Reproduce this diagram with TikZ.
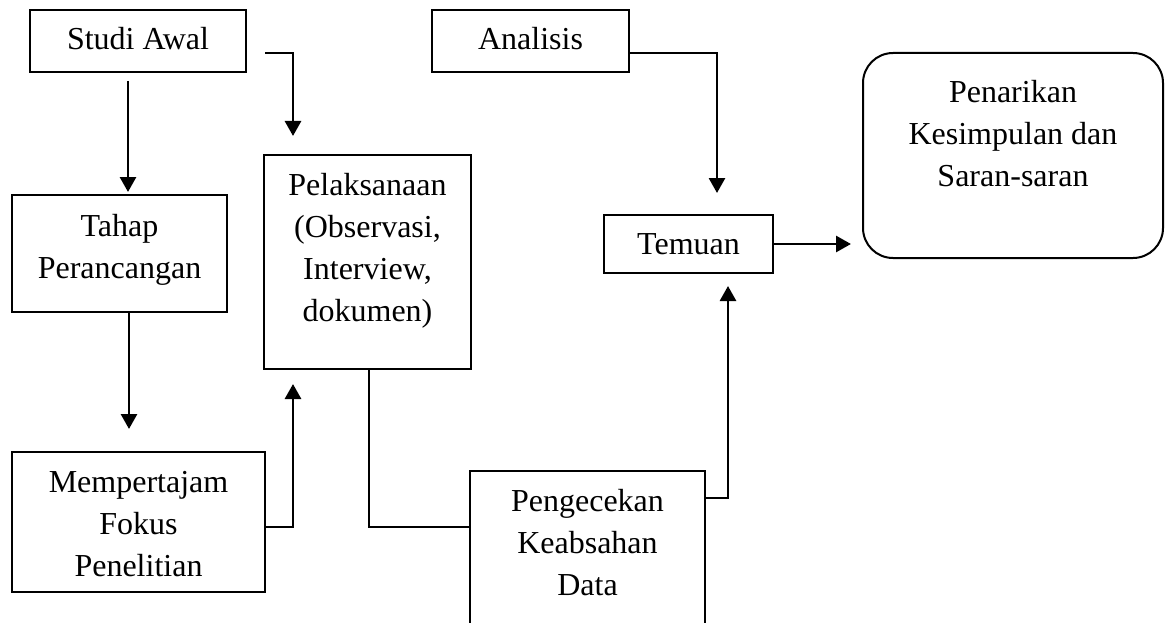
\documentclass[tikz,border=0pt]{standalone}
\usepackage{fontspec}
\setmainfont{Liberation Serif}
\usetikzlibrary{arrows.meta}
\begin{document}
\begin{tikzpicture}[x=1pt,y=-1pt,
  box/.style={draw,line width=2pt,inner sep=0pt},
  txt/.style={inner sep=0pt,align=center,font=\fontsize{32}{42}\selectfont},
  arr/.style={line width=2.8pt,-{Triangle[length=15pt,width=16pt]}},
  ln/.style={line width=2.2pt}]
\useasboundingbox (0,0) rectangle (1167,623);
\clip (0,0) rectangle (1167,623);
% boxes
\node[box,minimum width=216pt,minimum height=62pt] (studi) at (138,41) {};
\node[box,minimum width=215pt,minimum height=117pt] (tahap) at (119.5,253.5) {};
\node[box,minimum width=253pt,minimum height=140pt] (mem) at (138.5,522) {};
\node[box,minimum width=207pt,minimum height=214pt] (pel) at (367.5,262) {};
\node[box,minimum width=235pt,minimum height=169pt] (peng) at (587.5,555.5) {};
\node[box,minimum width=197pt,minimum height=62pt] (anal) at (530.5,41) {};
\node[box,minimum width=169pt,minimum height=58pt] (temuan) at (688.5,244) {};
\node[box,rounded corners=30pt,minimum width=300pt,minimum height=205pt] (pen) at (1013,155.5) {};
% texts
\node[txt,anchor=base] (studiT) at (138,50) {Studi Awal};
\node[txt,anchor=base] (analT) at (530.5,50) {Analisis};
\node[txt] (temuanT) at (688.5,244) {Temuan};
\node[txt] (tahapT) at (119.5,250) {Tahap\\Perancangan};
\node[txt] (memT) at (138.5,524) {Mempertajam\\Fokus\\Penelitian};
\node[txt] (pelT) at (367.5,250.5) {Pelaksanaan\\(Observasi,\\Interview,\\dokumen)};
\node[txt] (pengT) at (587.5,542.5) {Pengecekan\\Keabsahan\\Data};
\node[txt] (penT) at (1013,133.5) {Penarikan\\Kesimpulan dan\\Saran-saran};
% connectors
\draw[arr] ([xshift=-10pt,yshift=-8pt]studi.south) -- ([xshift=8.5pt,yshift=2pt]tahap.north);
\draw[arr] ([xshift=9.5pt]tahap.south) -- ([xshift=-9.5pt,yshift=22pt]mem.north);
\draw[arr] ([yshift=-5pt]mem.east) -| ([xshift=-74.5pt,yshift=-14pt]pel.south);
\draw[arr] ([xshift=18pt,yshift=-12pt]studi.east) -| ([xshift=-74.5pt,yshift=18pt]pel.north);
\draw[ln] ([xshift=1.5pt]pel.south) |- ([yshift=28.5pt]peng.west);
\draw[arr] ([yshift=57.5pt]peng.east) -| ([xshift=39.5pt,yshift=-12pt]temuan.south);
\draw[arr] ([yshift=-12pt]anal.east) -| ([xshift=28.5pt,yshift=21pt]temuan.north);
\draw[arr,shorten >=11pt] (temuan.east) -- (temuan.east -| pen.west);
\end{tikzpicture}
\end{document}
